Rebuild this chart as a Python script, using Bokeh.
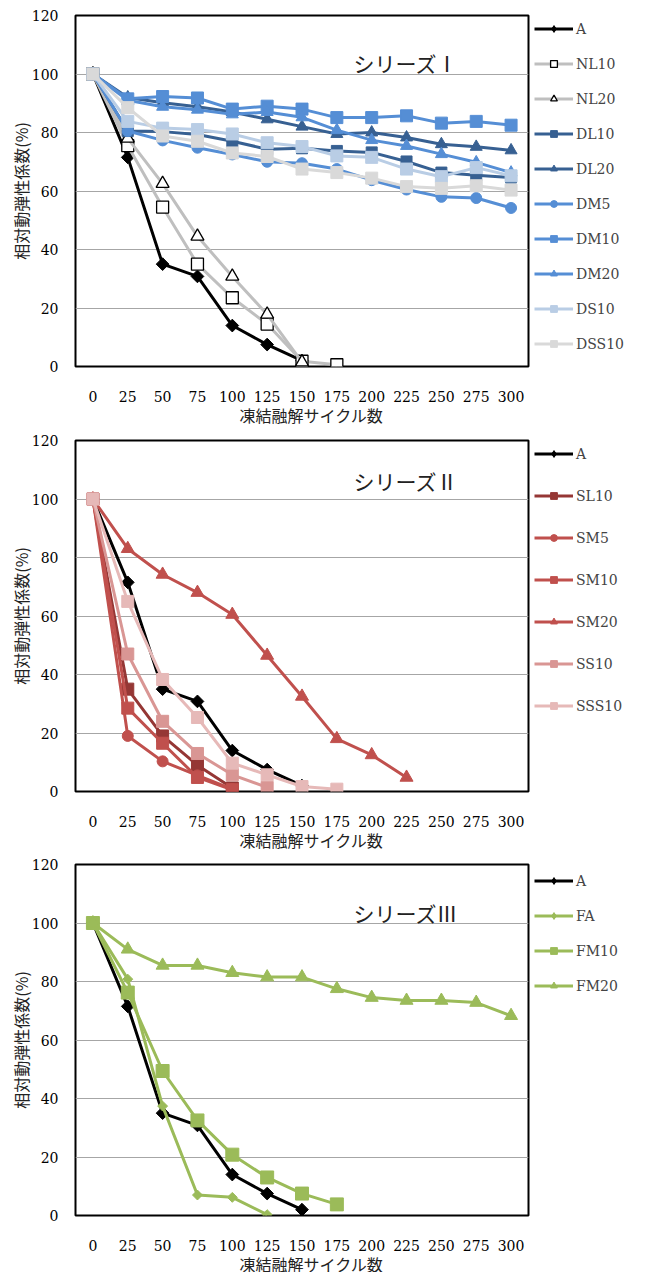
import math
from bokeh.plotting import figure
from bokeh.models import Range1d, FixedTicker, Legend, LegendItem, Label, Title, Spacer
from bokeh.layouts import column, row
from bokeh.embed import file_html
from bokeh.resources import INLINE

cycles = [0, 25, 50, 75, 100, 125, 150, 175, 200, 225, 250, 275, 300]
y_ticks = [0, 20, 40, 60, 80, 100, 120]

A = [100, 71.5, 35, 30.8, 14, 7.5, 2]

# Series I
NL10 = [100, 75.5, 54.5, 35, 23.5, 14.5, 1.8, 0.6]
NL20 = [100, 78, 62.5, 44.5, 30.8, 17.8, 1.5]
DL10 = [100, 80.5, 80.3, 79.3, 77, 74.3, 74.6, 73.7, 73.2, 70.1, 66.3, 65.4, 64.6]
DL20 = [100, 92, 90.2, 88.8, 87, 84.5, 82, 79.5, 80, 78.3, 76, 75.1, 73.9]
DM5 = [100, 80.5, 77.3, 74.8, 72.5, 70, 69.5, 67.5, 63.7, 60.5, 58, 57.6, 54.2]
DM10 = [100, 91.5, 92.3, 91.8, 88, 89, 88, 85.1, 85.1, 85.7, 83.2, 83.8, 82.5]
DM20 = [100, 91, 88.8, 87.8, 86.2, 87, 85.2, 80.8, 77.4, 75.4, 72.6, 69.8, 66.3]
DS10 = [100, 83.8, 81.5, 81, 79.5, 76.5, 75.2, 72, 71.5, 67.5, 64.9, 68, 65.2]
DSS10 = [100, 88.5, 78.8, 77, 73, 71.8, 67.5, 66.3, 64.4, 61.5, 60.9, 61.8, 60.3]

# Series II
SL10 = [100, 35, 19, 9, 1.2]
SM5 = [100, 19, 10.3, 5.5, 0.8]
SM10 = [100, 28.5, 16.5, 4.8, 0.6]
SM20 = [100, 83, 74.2, 68, 60.5, 46.5, 32.5, 18, 12.5, 4.8]
SS10 = [100, 47, 24, 13, 5.7, 1.4]
SSS10 = [100, 65, 38.3, 25.3, 9.7, 5.7, 1.7, 0.8]

# Series III
FA = [100, 80.8, 37.4, 7, 6.2, 0.3]
FM10 = [100, 76.2, 49.4, 32.5, 20.8, 13, 7.5, 3.8]
FM20 = [100, 91, 85.5, 85.5, 83, 81.5, 81.5, 77.5, 74.5, 73.5, 73.5, 72.8, 68.3]

SERIF = "DejaVu Serif"
CJK = "Noto Sans CJK JP"
X_TITLE = "凍結融解サイクル数"
Y_TITLE = "相対動弾性係数(%)"

blk = "#000000"
gry = "#BFBFBF"
dkb = "#376092"
mdb = "#558ED5"
ltb = "#B9CDE5"
lgy = "#D9D9D9"
dkr = "#953735"
red = "#C0504D"
pk1 = "#D99694"
pk2 = "#E6B9B8"
grn = "#9BBB59"

# (label, values, line color, marker, size, fill, marker line color)
A_style = ("A", A, blk, "dia", 9, blk, blk)

chart1 = [
    A_style,
    ("NL10", NL10, gry, "square", 12, "white", blk),
    ("NL20", NL20, gry, "triangle", 13, "white", blk),
    ("DL10", DL10, dkb, "square", 11, dkb, dkb),
    ("DL20", DL20, dkb, "triangle", 12, dkb, dkb),
    ("DM5", DM5, mdb, "circle", 11, mdb, mdb),
    ("DM10", DM10, mdb, "square", 12, mdb, mdb),
    ("DM20", DM20, mdb, "triangle", 12, mdb, mdb),
    ("DS10", DS10, ltb, "square", 12, ltb, ltb),
    ("DSS10", DSS10, lgy, "square", 12, lgy, lgy),
]
chart2 = [
    A_style,
    ("SL10", SL10, dkr, "square", 12, dkr, dkr),
    ("SM5", SM5, red, "circle", 11, red, red),
    ("SM10", SM10, red, "square", 12, red, red),
    ("SM20", SM20, red, "triangle", 13, red, red),
    ("SS10", SS10, pk1, "square", 12, pk1, pk1),
    ("SSS10", SSS10, pk2, "square", 12, pk2, pk2),
]
chart3 = [
    A_style,
    ("FA", FA, grn, "dia", 7, grn, grn),
    ("FM10", FM10, grn, "square", 13, grn, grn),
    ("FM20", FM20, grn, "triangle", 13, grn, grn),
]


def make(series, height, border_top, border_bottom, title, title_y, spacing, leg_shift):
    p = figure(width=530, height=height, output_backend="svg", toolbar_location=None,
               x_range=Range1d(-12.5, 312.5), y_range=Range1d(0, 120),
               min_border_left=75, min_border_right=2, min_border_top=border_top,
               min_border_bottom=border_bottom)
    p.background_fill_color = "white"
    p.border_fill_color = "white"
    p.outline_line_color = "black"
    p.outline_line_width = 2
    p.xgrid.visible = False
    p.ygrid.grid_line_color = "#A6A6A6"
    p.ygrid.grid_line_width = 1
    p.xaxis.ticker = FixedTicker(ticks=cycles)
    p.yaxis.ticker = FixedTicker(ticks=y_ticks)
    for ax in (p.xaxis[0], p.yaxis[0]):
        ax.axis_line_color = None
        ax.major_tick_line_color = None
        ax.minor_tick_line_color = None
        ax.major_tick_in = 0
        ax.major_tick_out = 0
        ax.minor_tick_in = 0
        ax.minor_tick_out = 0
        ax.major_label_text_font = SERIF
        ax.major_label_text_font_size = "14px"
        ax.major_label_text_color = "black"
        ax.axis_label_text_font = CJK
        ax.axis_label_text_font_size = "16px"
        ax.axis_label_text_font_style = "normal"
        ax.axis_label_text_color = "#222222"
    p.yaxis.major_label_standoff = 17
    p.yaxis.axis_label = Y_TITLE
    p.yaxis.axis_label_standoff = -4
    p.xaxis.major_label_standoff = 24
    p.add_layout(Title(text=X_TITLE, align="left", offset=164, standoff=-8,
                       text_font=CJK, text_font_size="16px", text_font_style="normal",
                       text_color="#222222"), "below")

    # legend panel: a separate figure whose view lies outside the data
    lf = figure(width=120, height=height - leg_shift, output_backend="svg",
                toolbar_location=None,
                x_range=Range1d(1000, 1001), y_range=Range1d(1000, 1001),
                x_axis_location=None, y_axis_location=None,
                min_border_left=4, min_border_right=0, min_border_top=border_top,
                min_border_bottom=10)
    lf.outline_line_color = None
    lf.xgrid.visible = False
    lf.ygrid.visible = False
    lf.background_fill_color = "white"
    lf.border_fill_color = "white"

    items = []
    for (name, vals, lc, mk, sz, fc, mlc) in series:
        xs = cycles[:len(vals)]
        p.line(xs, vals, line_color=lc, line_width=3, line_join="round")
        lw = 1.3 if fc == "white" else 1
        if mk == "dia":
            p.scatter(xs, vals, marker="square", size=sz, angle=math.pi / 4,
                      fill_color=fc, line_color=mlc)
            lmk = "diamond"
        else:
            p.scatter(xs, vals, marker=mk, size=sz, fill_color=fc,
                      line_color=mlc, line_width=lw)
            lmk = mk
        lr = lf.line(xs, vals, line_color=lc, line_width=3)
        sr = lf.scatter(xs, vals, marker=lmk, size=sz, fill_color=fc,
                        line_color=mlc, line_width=lw)
        items.append(LegendItem(label=name, renderers=[lr, sr]))

    leg = Legend(items=items, location="top_left", margin=0, padding=4,
                 spacing=spacing, glyph_width=39, glyph_height=17, label_height=17,
                 label_standoff=3, label_text_font=SERIF, label_text_font_size="14px",
                 border_line_color=None, background_fill_alpha=0)
    lf.add_layout(leg)

    p.add_layout(Label(x=187, y=title_y, text=title, text_font=CJK,
                       text_font_size="21px", text_baseline="middle", text_color="#222222"))
    side = column(Spacer(width=120, height=leg_shift), lf, spacing=0)
    return row(p, side, spacing=0)


r1 = make(chart1, 433, 15, 67, "シリーズⅠ", 103.7, 18, 5)
r2 = make(chart2, 424, 7, 66, "シリーズⅡ", 106, 25, 5)
r3 = make(chart3, 415, 7, 57, "シリーズⅢ", 103.4, 18, 8)

layout = column(r1, r2, r3, spacing=0)
open("out.html", "w").write(file_html(layout, INLINE))
